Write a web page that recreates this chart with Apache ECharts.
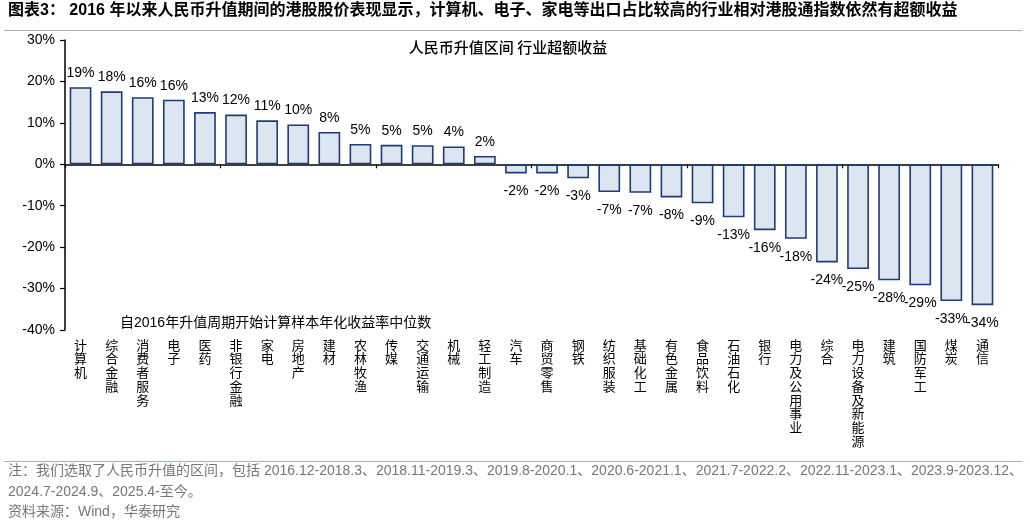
<!DOCTYPE html>
<html><head><meta charset="utf-8">
<script src="https://cdn.jsdelivr.net/npm/echarts@6/dist/echarts.min.js"></script>
<style>html,body{margin:0;padding:0;background:#fff}#c{width:1030px;height:526px}</style>
</head><body><div id="c"></div>
<script>
const categories = ['计算机','综合金融','消费者服务','电子','医药','非银行金融','家电','房地产','建材','农林牧渔','传媒','交通运输','机械','轻工制造','汽车','商贸零售','钢铁','纺织服装','基础化工','有色金属','食品饮料','石油石化','银行','电力及公用事业','综合','电力设备及新能源','建筑','国防军工','煤炭','通信'];
const excessReturn = [18.6,17.6,16.2,15.6,12.6,12.0,10.6,9.6,7.8,4.9,4.7,4.6,4.3,2.0,-2.2,-2.2,-3.4,-6.7,-6.9,-8.0,-9.4,-12.8,-15.9,-18.0,-23.7,-25.3,-28.0,-29.2,-33.0,-34.0];
const yTicks = {min:-40, max:30, interval:10};
const headerTitle = '图表3： 2016 年以来人民币升值期间的港股股价表现显示，计算机、电子、家电等出口占比较高的行业相对港股通指数依然有超额收益';
const chartTitle = '人民币升值区间 行业超额收益';
const annotation = '自2016年升值周期开始计算样本年化收益率中位数';
const noteLine1 = '注：我们选取了人民币升值的区间，包括 2016.12-2018.3、2018.11-2019.3、2019.8-2020.1、2020.6-2021.1、2021.7-2022.2、2022.11-2023.1、2023.9-2023.12、';
const noteLine2 = '2024.7-2024.9、2025.4-至今。';
const sourceLine = '资料来源：Wind，华泰研究';

const CJK = '"Liberation Sans","Noto Sans CJK SC",sans-serif';
const chart = echarts.init(document.getElementById('c'));
const barData = excessReturn.map(v => ({
  value: v,
  label: v >= 0 ? {position: 'top', distance: 7} : {position: 'bottom', distance: 11}
}));
chart.setOption({
  animation: false,
  textStyle: {fontFamily: CJK},
  title: {
    text: chartTitle, left: 503, top: 35, textAlign: 'center',
    textStyle: {fontSize: 15, fontWeight: 500, color: '#000', fontFamily: '"Noto Sans CJK SC",sans-serif'}
  },
  grid: {left: 65, right: 32, top: 40, bottom: 196, containLabel: false},
  xAxis: [
    {type: 'category', data: categories, position: 'bottom',
     axisLine: {onZero: true, lineStyle: {color: '#000', width: 1.5}},
     axisTick: {show: true, length: 4, lineStyle: {color: '#000', width: 1.2}},
     axisLabel: {show: false}, splitLine: {show: false}},
    {type: 'category', data: categories, position: 'bottom', gridIndex: 0,
     axisLine: {show: false, onZero: false}, axisTick: {show: false},
     axisLabel: {show: true, interval: 0, margin: 8, color: '#000', fontSize: 13, lineHeight: 13.7,
       fontFamily: '"Noto Sans CJK SC",sans-serif', verticalAlign: 'top',
       formatter: s => s.split('').join('\n')}}
  ],
  yAxis: {
    type: 'value', min: yTicks.min, max: yTicks.max, interval: yTicks.interval,
    axisLine: {show: true, lineStyle: {color: '#000', width: 1.5}},
    axisTick: {show: true, length: 5, lineStyle: {color: '#000', width: 1.2}},
    axisLabel: {formatter: '{value}%', color: '#000', fontSize: 14, margin: 10, fontFamily: '"Liberation Sans",sans-serif'},
    splitLine: {show: false}
  },
  series: [{
    type: 'bar', xAxisIndex: 0, data: barData, barWidth: '70%',
    itemStyle: {color: '#dce6f1', borderColor: '#1f3b78', borderWidth: 1.6},
    label: {show: true, color: '#000', fontSize: 14, fontFamily: '"Liberation Sans",sans-serif',
      formatter: p => Math.round(p.value) + '%'}
  }],
  graphic: [
    {type: 'text', left: 8, top: 3, style: {text: headerTitle, fill: '#000',
      font: 'bold 16px "Liberation Sans","Noto Sans CJK SC",sans-serif'}},
    {type: 'rect', shape: {x: 4, y: 30, width: 1018, height: 1}, style: {fill: '#9fb1c7'}},
    {type: 'text', left: 120, top: 316, style: {text: annotation, fill: '#000',
      font: '14px "Liberation Sans","Noto Sans CJK SC",sans-serif'}},
    {type: 'rect', shape: {x: 4, y: 461, width: 1018, height: 1}, style: {fill: '#9fb1c7'}},
    {type: 'text', left: 8, top: 464, style: {text: noteLine1, fill: '#777',
      font: '14px "Liberation Sans","Noto Sans CJK SC",sans-serif'}},
    {type: 'text', left: 8, top: 485, style: {text: noteLine2, fill: '#777',
      font: '14px "Liberation Sans","Noto Sans CJK SC",sans-serif'}},
    {type: 'text', left: 8, top: 505, style: {text: sourceLine, fill: '#777',
      font: '14px "Liberation Sans","Noto Sans CJK SC",sans-serif'}}
  ]
});
</script></body></html>
